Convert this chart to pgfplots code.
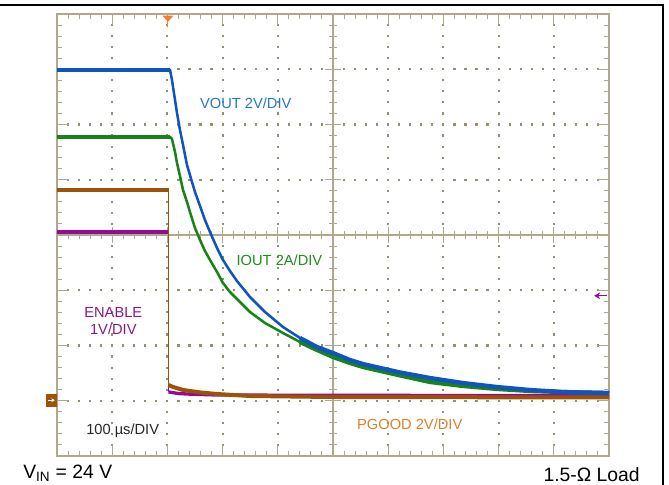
\documentclass[border=0pt]{standalone}
\usepackage{fontspec}
\setmainfont{Liberation Sans}
\usepackage{pgfplots}
\pgfplotsset{compat=1.18}
\usetikzlibrary{arrows.meta}
\definecolor{gridc}{RGB}{176,168,138}
\definecolor{dotc}{RGB}{150,142,110}
\definecolor{vblue}{RGB}{16,84,192}
\definecolor{igreen}{RGB}{22,132,22}
\definecolor{pbrown}{RGB}{156,82,8}
\definecolor{epurple}{RGB}{150,10,150}
\definecolor{tblue}{RGB}{40,120,200}
\definecolor{tgreen}{RGB}{30,140,30}
\definecolor{torange}{RGB}{225,125,45}
\definecolor{tpurple}{RGB}{135,25,135}
\definecolor{trig}{RGB}{255,120,50}
\begin{document}
\begin{tikzpicture}
\path[use as bounding box] (0pt,0pt) rectangle (501.75pt,363.75pt);
\draw[black, line width=1.1pt] (0pt,360pt) -- (497.25pt,360pt) -- (497.25pt,0pt);
% dotted graticule
\foreach \i in {1,2,3,4,6,7,8,9}{%
  \pgfmathsetmacro{\xx}{42.75+41.4*\i}%
  \foreach \k in {1,...,39}{%
    \pgfmathsetmacro{\yy}{21.75+8.2875*\k}%
    \fill[dotc] (\xx pt-0.8pt,\yy pt-0.8pt) rectangle (\xx pt+0.8pt,\yy pt+0.8pt);}}
\foreach \j in {1,2,3,5,6,7}{%
  \pgfmathsetmacro{\yy}{21.75+41.4375*\j}%
  \foreach \k in {1,...,49}{%
    \pgfmathsetmacro{\xx}{42.75+8.28*\k}%
    \fill[dotc] (\xx pt-0.8pt,\yy pt-0.8pt) rectangle (\xx pt+0.8pt,\yy pt+0.8pt);}}
% centre crosshair
\draw[gridc, line width=1.1pt] (42.75pt,187.5pt) -- (456.75pt,187.5pt);
\draw[gridc, line width=1.1pt] (249.75pt,21.75pt) -- (249.75pt,353.25pt);
\foreach \k in {1,...,49}{\draw[gridc, line width=0.75pt] ({42.75pt+8.28pt*\k},184.3pt) -- ++(0,6.4pt);}
\foreach \k in {1,...,9}{\draw[gridc, line width=0.75pt] ({42.75pt+41.4pt*\k},181.5pt) -- ++(0,12pt);}
\foreach \k in {1,...,39}{\draw[gridc, line width=0.75pt] (246.55pt,{21.75pt+8.2875pt*\k}) -- ++(6.4pt,0);}
\foreach \k in {1,...,7}{\draw[gridc, line width=0.75pt] (243.75pt,{21.75pt+41.4375pt*\k}) -- ++(12pt,0);}
\begin{axis}[
  at={(42.75pt,21.75pt)}, anchor=south west, scale only axis,
  width=414pt, height=331.5pt,
  xmin=0, xmax=10, ymin=-4, ymax=4,
  xtick={0,...,10}, ytick={-4,...,4},
  minor x tick num=4, minor y tick num=4,
  xticklabels={}, yticklabels={},
  tick align=inside, major tick length=8.25pt, minor tick length=3.75pt,
  tick style={gridc, line width=0.75pt},
  axis line style={gridc, line width=1.1pt},
  clip=false,
  every axis plot/.append style={line join=round},
  font=\fontsize{11}{13}\selectfont,
]
% ENABLE (purple)
\addplot[epurple, line width=2.6pt] coordinates {(0,0.054)(2.02,0.054)};
\addplot[epurple, line width=0.9pt] coordinates {(2.02,0.054)(2.02,-2.84)};
\addplot[epurple, line width=2.5pt] coordinates {(2.02,-2.84)(2.2,-2.87)(2.4,-2.88)(2.899,-2.896)(5,-2.903)(10,-2.905)};
% PGOOD (brown)
\addplot[pbrown, line width=2.8pt] coordinates {(0,0.814)(2.02,0.814)};
\addplot[pbrown, line width=0.9pt] coordinates {(2.02,0.814)(2.02,-2.75)};
\addplot[pbrown, line width=3pt] coordinates {(2.02,-2.715)(2.1,-2.75)(2.283,-2.805)(2.6,-2.85)(2.899,-2.878)(3.496,-2.914)(4.946,-2.932)(10,-2.941)};
% IOUT (green)
\addplot[igreen, line width=1.9pt] coordinates {
(0,1.774)(2.05,1.774)(2.083,1.738)(2.138,1.502)(2.174,1.303)(2.228,1.068)(2.283,0.814)
(2.355,0.597)(2.409,0.416)(2.500,0.127)(2.591,-0.090)(2.681,-0.290)(2.772,-0.452)
(2.899,-0.670)(3.007,-0.869)(3.134,-1.032)(3.315,-1.213)(3.496,-1.394)(3.768,-1.593)
(4.094,-1.774)(4.402,-1.937)(4.710,-2.081)(5.0,-2.208)(5.308,-2.317)(5.543,-2.389)
(6.178,-2.534)(6.757,-2.661)(7.355,-2.733)(7.971,-2.787)(8.569,-2.824)(9.167,-2.842)(10,-2.860)};
\addplot[igreen, line width=2.8pt] coordinates {(0,1.774)(2.05,1.774)};
\addplot[igreen, line width=3.2pt] coordinates {(4.402,-1.937)(4.710,-2.081)(5.0,-2.208)(5.308,-2.317)(5.543,-2.389)
(6.178,-2.534)(6.757,-2.661)(7.355,-2.733)(7.971,-2.787)(8.569,-2.824)(9.167,-2.842)(10,-2.860)};
% VOUT (blue)
\addplot[vblue, line width=1.9pt] coordinates {
(0,2.99)(2.047,2.99)(2.083,2.805)(2.138,2.443)(2.174,2.208)(2.228,1.900)(2.283,1.629)
(2.355,1.267)(2.446,0.959)(2.500,0.778)(2.591,0.525)(2.681,0.271)(2.772,0.054)
(2.899,-0.235)(3.007,-0.452)(3.134,-0.652)(3.261,-0.833)(3.496,-1.122)(3.768,-1.394)
(4.094,-1.665)(4.402,-1.864)(4.710,-2.027)(5.0,-2.136)(5.308,-2.262)(5.543,-2.335)
(6.178,-2.480)(6.757,-2.588)(7.355,-2.679)(7.971,-2.751)(8.569,-2.805)(9.167,-2.842)(10,-2.860)};
\addplot[vblue, line width=2.8pt] coordinates {(0,2.99)(2.047,2.99)};
\addplot[vblue, line width=3.2pt] coordinates {(4.402,-1.864)(4.710,-2.027)(5.0,-2.136)(5.308,-2.262)(5.543,-2.335)
(6.178,-2.480)(6.757,-2.588)(7.355,-2.679)(7.971,-2.751)(8.569,-2.805)(9.167,-2.842)(10,-2.860)};
% trigger position marker
\addplot[fill=trig, draw=none] coordinates {(1.91,3.97)(2.11,3.97)(2.01,3.86)} -- cycle;
\addplot[trig, line width=0.8pt] coordinates {(2.01,3.9)(2.01,3.77)};
% ground marker (left)
\addplot[fill=pbrown, draw=none] coordinates {(-0.2,-2.87)(0,-2.87)(0,-3.11)(-0.2,-3.11)} -- cycle;
\addplot[white, line width=0.6pt, -{Stealth[length=2.5pt,width=3pt]}] coordinates {(-0.16,-2.99)(-0.04,-2.99)};
% trigger level arrow (right)
\addplot[epurple, line width=1pt, -{Stealth[length=4.5pt,width=5pt]}] coordinates {(9.96,-1.10)(9.73,-1.10)};
% labels
\node[tblue] at (axis cs:3.42,2.39) {VOUT 2V/DIV};
\node[tgreen] at (axis cs:4.03,-0.45) {IOUT 2A/DIV};
\node[tpurple, align=center, font=\fontsize{11}{12.75}\selectfont] at (axis cs:1.02,-1.55) {ENABLE\\1V/DIV};
\node[black!85] at (axis cs:1.19,-3.55) {100 µs/DIV};
\node[torange] at (axis cs:6.39,-3.42) {PGOOD 2V/DIV};
\end{axis}
\node[anchor=base west, font=\fontsize{14.5}{16}\selectfont, inner sep=0pt] at (17.25pt,4.5pt) {V\textsubscript{IN} = 24 V};
\node[anchor=base east, font=\fontsize{14.5}{16}\selectfont, inner sep=0pt] at (480pt,2.5pt) {1.5-Ω Load};
\end{tikzpicture}
\end{document}
